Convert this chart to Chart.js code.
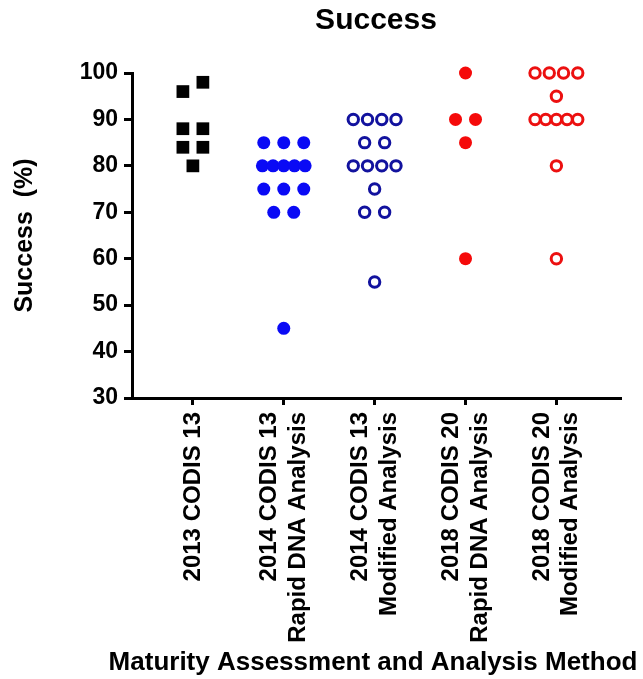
<!DOCTYPE html>
<html>
<head>
<meta charset="utf-8">
<title>Success</title>
<script src="https://cdn.jsdelivr.net/npm/chart.js@4.4.1/dist/chart.umd.min.js"></script>
<style>
  html, body { margin: 0; padding: 0; background: #fff; }
  canvas { display: block; }
</style>
</head>
<body>
<canvas id="chart" width="643" height="679"></canvas>
<script>
// categories on the x axis (multi-line labels as arrays)
const categories = [
    ['2013 CODIS 13'],
    ['2014 CODIS 13', 'Rapid DNA Analysis'],
    ['2014 CODIS 13', 'Modified Analysis'],
    ['2018 CODIS 20', 'Rapid DNA Analysis'],
    ['2018 CODIS 20', 'Modified Analysis'],
];

// success (%) per sample
const codis13_2013 = [96, 98, 88, 88, 84, 84, 80];
const codis13_2014Rapid = [85, 85, 85, 80, 80, 80, 80, 80, 75, 75, 75, 70, 70, 45];
const codis13_2014Modified = [90, 90, 90, 90, 85, 85, 80, 80, 80, 80, 75, 70, 70, 55];
const codis20_2018Rapid = [100, 90, 90, 85, 60];
const codis20_2018Modified = [100, 100, 100, 100, 95, 90, 90, 90, 90, 90, 80, 60];

const yTicks = [30, 40, 50, 60, 70, 80, 90, 100];

const chartTitle = 'Success';
const yTitle = 'Success  (%)';
const xTitle = 'Maturity Assessment and Analysis Method';

Chart.defaults.font.family = "'Liberation Sans', Arial, sans-serif";
Chart.defaults.font.weight = 'bold';
Chart.defaults.color = '#000';

// spread points that share (almost) the same value side by side, like a column scatter
const spread = (values, index) => {
    const rows = [];
    values.forEach(v => {
        const row = rows[rows.length - 1];
        if (row && Math.abs(row[0] - v) <= 2) row.push(v);
        else rows.push([v]);
    });
    const points = [];
    rows.forEach(row => {
        const n = row.length;
        const step = n > 1 ? Math.min(0.22, 0.47 / (n - 1)) : 0;
        row.forEach((v, k) => points.push({ x: index + (k - (n - 1) / 2) * step, y: v }));
    });
    return points;
}

const data = {
    datasets: [
        {
            data: spread(codis13_2013, 0),
            pointStyle: 'rect',
            pointRadius: 9,
            backgroundColor: '#000',
            borderWidth: 0,
        },
        {
            data: spread(codis13_2014Rapid, 1),
            pointStyle: 'circle',
            pointRadius: 6.5,
            backgroundColor: '#0a0af5',
            borderWidth: 0,
        },
        {
            data: spread(codis13_2014Modified, 2),
            pointStyle: 'circle',
            pointRadius: 5.2,
            backgroundColor: 'rgba(0,0,0,0)',
            borderColor: '#12129e',
            borderWidth: 3,
        },
        {
            data: spread(codis20_2018Rapid, 3),
            pointStyle: 'circle',
            pointRadius: 6.5,
            backgroundColor: '#f50a0a',
            borderWidth: 0,
        },
        {
            data: spread(codis20_2018Modified, 4),
            pointStyle: 'circle',
            pointRadius: 5.2,
            backgroundColor: 'rgba(0,0,0,0)',
            borderColor: '#ec1010',
            borderWidth: 3,
        },
    ],
}

// chart.js puts the first line of a rotated label on the tick; centre the whole block instead
const centreLabels = {
    id: 'centreLabels',
    beforeDraw(chart) {
        const items = chart.scales.x.getLabelItems(chart.chartArea);
        if (items.centred) return;
        items.forEach(item => {
            const lines = Array.isArray(item.label) ? item.label.length : 1;
            item.options.translation[0] -= (lines - 1) * item.font.lineHeight / 2;
        });
        items.centred = true;
    }
}

// x axis title drawn wider than the chart area, as in the original
const xAxisTitle = {
    id: 'xAxisTitle',
    afterDraw(chart) {
        const ctx = chart.ctx;
        ctx.save();
        ctx.font = "bold 26px 'Liberation Sans', Arial, sans-serif";
        ctx.fillStyle = '#000';
        ctx.textAlign = 'center';
        ctx.textBaseline = 'middle';
        ctx.fillText(xTitle, 373, 663);
        ctx.restore();
    }
}

const config = {
    type: 'scatter',
    data: data,
    options: {
        responsive: false,
        animation: false,
        events: [],
        clip: false,
        layout: {
            padding: { left: 0, right: 23, top: 0, bottom: 0 }
        },
        elements: {
            point: { hoverRadius: 0 }
        },
        scales: {
            x: {
                type: 'linear',
                min: -0.67,
                max: 4.7,
                afterBuildTicks: (scale) => {
                    scale.ticks = categories.map((c, i) => ({ value: i }));
                },
                afterFit: (scale) => {
                    scale.height = 281;
                },
                border: { color: '#000', width: 3 },
                grid: {
                    drawOnChartArea: false,
                    color: '#000',
                    lineWidth: 3,
                    tickLength: 7,
                },
                ticks: {
                    autoSkip: false,
                    minRotation: 90,
                    maxRotation: 90,
                    padding: 7,
                    color: '#000',
                    font: { size: 24, weight: 'bold' },
                    callback: (value) => categories[Math.round(value)],
                },
            },
            y: {
                min: 30,
                max: 100,
                afterBuildTicks: (scale) => {
                    scale.ticks = yTicks.map(v => ({ value: v }));
                },
                afterFit: (scale) => {
                    scale.width = 132;
                },
                border: { color: '#000', width: 3 },
                grid: {
                    drawOnChartArea: false,
                    color: '#000',
                    lineWidth: 3,
                    tickLength: 8,
                },
                ticks: {
                    padding: 6,
                    color: '#000',
                    font: { size: 23, weight: 'bold' },
                },
                title: {
                    display: true,
                    text: yTitle,
                    color: '#000',
                    font: { size: 25, weight: 'bold' },
                    padding: { top: 10, bottom: 0 },
                },
            },
        },
        plugins: {
            legend: { display: false },
            tooltip: { enabled: false },
            title: {
                display: true,
                text: chartTitle,
                fullSize: false,
                color: '#000',
                font: { size: 30, weight: 'bold' },
                padding: { top: 3, bottom: 34 },
            },
        },
    },
    plugins: [centreLabels, xAxisTitle],
}

const chart = new Chart(document.getElementById('chart'), config);
</script>
</body>
</html>
